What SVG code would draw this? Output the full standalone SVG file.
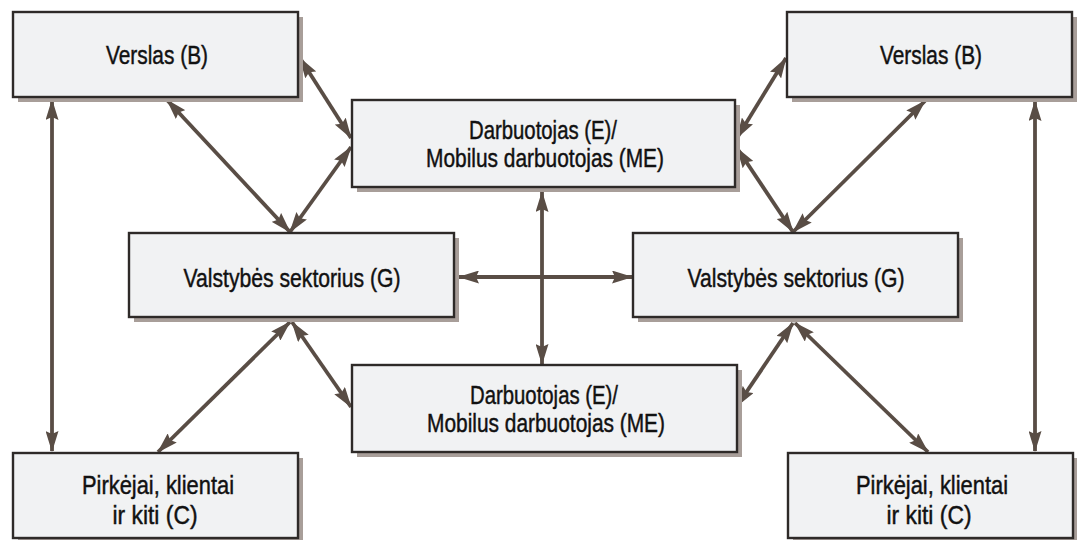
<svg xmlns="http://www.w3.org/2000/svg" width="1077" height="540" viewBox="0 0 1077 540">
<style>
.shadow{fill:#a89e99;}
.box{fill:#f1f2f3;stroke:#2e2a28;stroke-width:2.4;}
.lbl{font-family:"Liberation Sans",Arial,sans-serif;font-size:26px;fill:#111;stroke:#111;stroke-width:0.45;text-anchor:middle;}
.con line{stroke:#594d45;stroke-width:3.8;marker-start:url(#ah);marker-end:url(#ah);}
</style>
<defs>
<marker id="ah" markerUnits="userSpaceOnUse" markerWidth="21" markerHeight="13" refX="20" refY="6.5" orient="auto-start-reverse">
<path d="M0,0 L21,6.5 L0,13 L3,6.5 z" fill="#594d45"/>
</marker>
</defs>
<rect width="1077" height="540" fill="#ffffff"/>
<g id="connectors" class="con">
<line x1="52" y1="100" x2="52" y2="451"/>
<line x1="1035" y1="101" x2="1035" y2="451"/>
<line x1="167" y1="100" x2="290" y2="232"/>
<line x1="300" y1="58" x2="351" y2="138"/>
<line x1="290" y1="232" x2="351" y2="147"/>
<line x1="786" y1="58" x2="737" y2="138"/>
<line x1="737" y1="148" x2="793" y2="232"/>
<line x1="925" y1="101" x2="793" y2="232"/>
<line x1="459" y1="277" x2="632" y2="277"/>
<line x1="542" y1="192" x2="542" y2="364"/>
<line x1="290" y1="322" x2="158" y2="452"/>
<line x1="292" y1="322" x2="351" y2="407"/>
<line x1="737" y1="406" x2="793" y2="323"/>
<line x1="795" y1="323" x2="928" y2="452"/>
</g>
<g id="verslas-left">
<rect class="shadow" x="18" y="17" width="285" height="85"/>
<rect class="box" x="13" y="12" width="285" height="85"/>
<text class="lbl" x="157" y="64" textLength="102" lengthAdjust="spacingAndGlyphs">Verslas (B)</text>
</g>
<g id="verslas-right">
<rect class="shadow" x="792" y="17" width="285" height="85"/>
<rect class="box" x="787" y="12" width="285" height="85"/>
<text class="lbl" x="931" y="64" textLength="102" lengthAdjust="spacingAndGlyphs">Verslas (B)</text>
</g>
<g id="darbuotojas-top">
<rect class="shadow" x="357" y="105" width="383" height="87"/>
<rect class="box" x="352" y="100" width="383" height="87"/>
<text class="lbl" x="543" y="139" textLength="148" lengthAdjust="spacingAndGlyphs">Darbuotojas (E)/</text>
<text class="lbl" x="545" y="167" textLength="238" lengthAdjust="spacingAndGlyphs">Mobilus darbuotojas (ME)</text>
</g>
<g id="valstybes-left">
<rect class="shadow" x="134" y="238" width="325" height="84"/>
<rect class="box" x="129" y="233" width="325" height="84"/>
<text class="lbl" x="292" y="287" textLength="217" lengthAdjust="spacingAndGlyphs">Valstybės sektorius (G)</text>
</g>
<g id="valstybes-right">
<rect class="shadow" x="638" y="238" width="325" height="84"/>
<rect class="box" x="633" y="233" width="325" height="84"/>
<text class="lbl" x="796" y="287" textLength="217" lengthAdjust="spacingAndGlyphs">Valstybės sektorius (G)</text>
</g>
<g id="darbuotojas-bottom">
<rect class="shadow" x="357" y="370" width="385" height="87"/>
<rect class="box" x="352" y="365" width="385" height="87"/>
<text class="lbl" x="544" y="404" textLength="148" lengthAdjust="spacingAndGlyphs">Darbuotojas (E)/</text>
<text class="lbl" x="546" y="432" textLength="238" lengthAdjust="spacingAndGlyphs">Mobilus darbuotojas (ME)</text>
</g>
<g id="pirkejai-left">
<rect class="shadow" x="18" y="458" width="285" height="85"/>
<rect class="box" x="13" y="453" width="285" height="85"/>
<text class="lbl" x="158" y="494" textLength="152" lengthAdjust="spacingAndGlyphs">Pirkėjai, klientai</text>
<text class="lbl" x="155" y="524" textLength="85" lengthAdjust="spacingAndGlyphs">ir kiti (C)</text>
</g>
<g id="pirkejai-right">
<rect class="shadow" x="793" y="458" width="285" height="85"/>
<rect class="box" x="788" y="453" width="285" height="85"/>
<text class="lbl" x="932" y="494" textLength="152" lengthAdjust="spacingAndGlyphs">Pirkėjai, klientai</text>
<text class="lbl" x="929" y="524" textLength="85" lengthAdjust="spacingAndGlyphs">ir kiti (C)</text>
</g>
</svg>
